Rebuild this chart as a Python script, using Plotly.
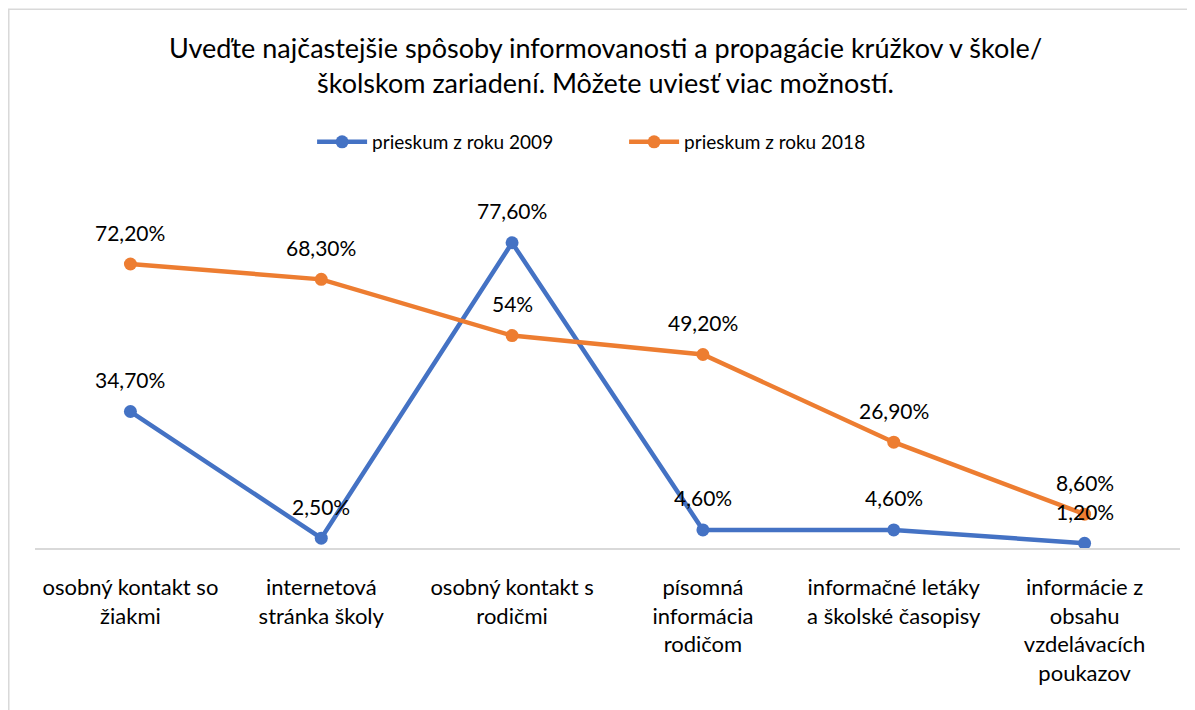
import plotly.graph_objects as go

categories = [
    "osobný kontakt so<br>žiakmi",
    "internetová<br>stránka školy",
    "osobný kontakt s<br>rodičmi",
    "písomná<br>informácia<br>rodičom",
    "informačné letáky<br>a školské časopisy",
    "informácie z<br>obsahu<br>vzdelávacích<br>poukazov",
]
series_2009 = [34.7, 2.5, 77.6, 4.6, 4.6, 1.2]
series_2018 = [72.2, 68.3, 54.0, 49.2, 26.9, 8.6]
labels_2009 = ["34,70%", "2,50%", "77,60%", "4,60%", "4,60%", "1,20%"]
labels_2018 = ["72,20%", "68,30%", "54%", "49,20%", "26,90%", "8,60%"]
name_2009 = "prieskum z roku 2009"
name_2018 = "prieskum z roku 2018"
title_text = ("Uveďte najčastejšie spôsoby informovanosti a propagácie krúžkov v škole/<br>"
              "školskom zariadení. Môžete uviesť viac možností.")

FONT = "Lato, Calibri, Carlito, sans-serif"
BLUE = "#4472C4"
ORANGE = "#ED7D31"

fig = go.Figure()
fig.add_trace(go.Scatter(x=categories, y=series_2009, name=name_2009, mode="lines+markers",
                         line=dict(color=BLUE, width=4.5), marker=dict(size=13, color=BLUE)))
fig.add_trace(go.Scatter(x=categories, y=series_2018, name=name_2018, mode="lines+markers",
                         line=dict(color=ORANGE, width=4.5), marker=dict(size=13, color=ORANGE)))

annotations = []
for cats, vals, labs in ((categories, series_2009, labels_2009), (categories, series_2018, labels_2018)):
    for c, v, t in zip(cats, vals, labs):
        annotations.append(dict(x=c, y=v, text=t, showarrow=False, yshift=32,
                                font=dict(family=FONT, size=21, color="#000000")))

fig.update_layout(
    width=1195, height=710,
    paper_bgcolor="white", plot_bgcolor="white",
    margin=dict(l=27, r=23, t=186, b=170),
    title=dict(text=title_text, x=0.5, xanchor="center", y=0.93, yanchor="top",
               font=dict(family=FONT, size=27, color="#000000")),
    legend=dict(orientation="h", x=0.242, xanchor="left", y=1.147, yanchor="middle",
                font=dict(family=FONT, size=19, color="#000000"), itemwidth=50,
                entrywidth=247, entrywidthmode="pixels"),
    annotations=annotations,
    showlegend=True,
    shapes=[dict(type="rect", xref="paper", yref="paper", x0=-0.0229, x1=1.1, y0=-0.6, y1=1.522,
                 line=dict(color="#d9d9d9", width=1.5), layer="below")],
)
fig.update_xaxes(type="category", range=[-0.5, 5.5], showgrid=False, showline=True,
                 linecolor="#d9d9d9", linewidth=1.5, ticks="", ticklabelstandoff=19,
                 tickfont=dict(family=FONT, size=22, color="#000000"), zeroline=False)
fig.update_yaxes(range=[0, 90], visible=False, showgrid=False, zeroline=False)

fig.write_html("out.html")
